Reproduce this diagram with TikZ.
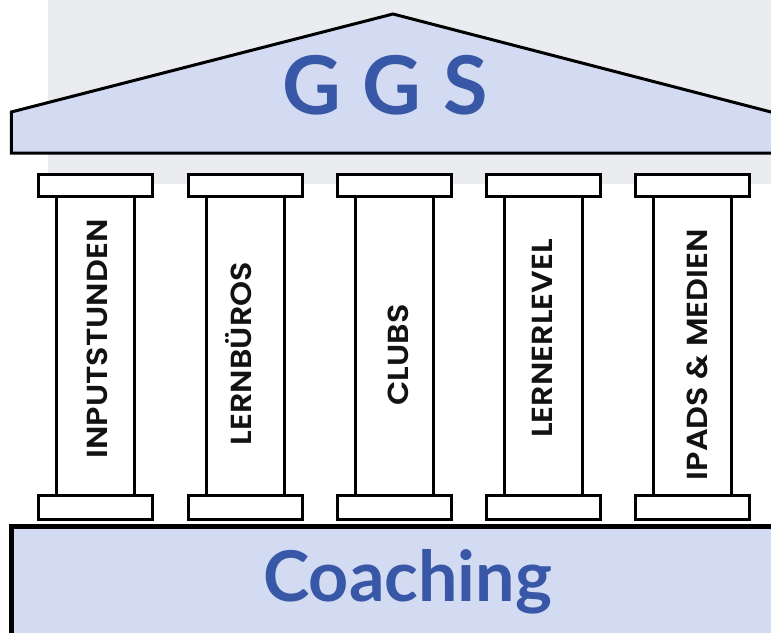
\documentclass[tikz,border=0pt]{standalone}
\usepackage{fontspec}
\newfontfamily\latofont{Lato}
\newfontfamily\popfont{Poppins}[BoldFont={Poppins SemiBold}, FakeStretch=1.1]
\definecolor{bgGray}{HTML}{EBECEF}
\definecolor{paleBlue}{HTML}{D3DBF3}
\definecolor{titleBlue}{HTML}{3957A7}
\tikzset{
  partbox/.style={draw=black, line width=3pt, fill=white},
  pillarlabel/.style={rotate=90, anchor=base, inner sep=0pt, font=\popfont\bfseries\fontsize{29}{31}\selectfont, text=black!93},
  bigtitle/.style={anchor=base, inner sep=0pt, text=titleBlue}
}
\begin{document}
\begin{tikzpicture}[x=1pt, y=-1pt]
\useasboundingbox (0,0) rectangle (771,632);
\clip (0,0) rectangle (771,632);
% background
\fill[bgGray] (48,-5) rectangle (780,184);
% roof
\draw[fill=paleBlue, line width=3pt, line join=miter] (11.3,153) -- (11.3,112) -- (393,14) -- (800,119.5) -- (800,153) -- cycle;
\node[bigtitle, font=\latofont\bfseries\fontsize{81}{81}\selectfont] (ggs) at (385,114) {G\hspace{2pt} G\hspace{2pt} S};
% base
\draw[fill=paleBlue, line width=4.5pt] (11.5,526.7) rectangle (800,700);
\node[bigtitle, font=\latofont\bfseries\fontsize{70}{70}\selectfont] (coach) at (407.5,601) {Coaching};
% pillars
\foreach \i/\x in {1/37, 2/187, 3/336, 4/485, 5/634}{
  \draw[partbox] (\x+19.5,196.5) rectangle (\x+97.5,495.5);
  \draw[partbox] (\x+1.5,174.5) rectangle (\x+115.5,196.5);
  \draw[partbox] (\x+1.5,495.5) rectangle (\x+115.5,519.5);
}
\node[pillarlabel] (p1) at (107.3,339) {INPUTSTUNDEN};
\node[pillarlabel] (p2) at (251.7,353.5) {LERNBÜROS};
\node[pillarlabel] (p3) at (408,355) {CLUBS};
\node[pillarlabel] (p4) at (552.7,338.5) {LERNERLEVEL};
\node[pillarlabel] (p5) at (707.7,354.5) {IPADS \& MEDIEN};
\end{tikzpicture}
\end{document}
